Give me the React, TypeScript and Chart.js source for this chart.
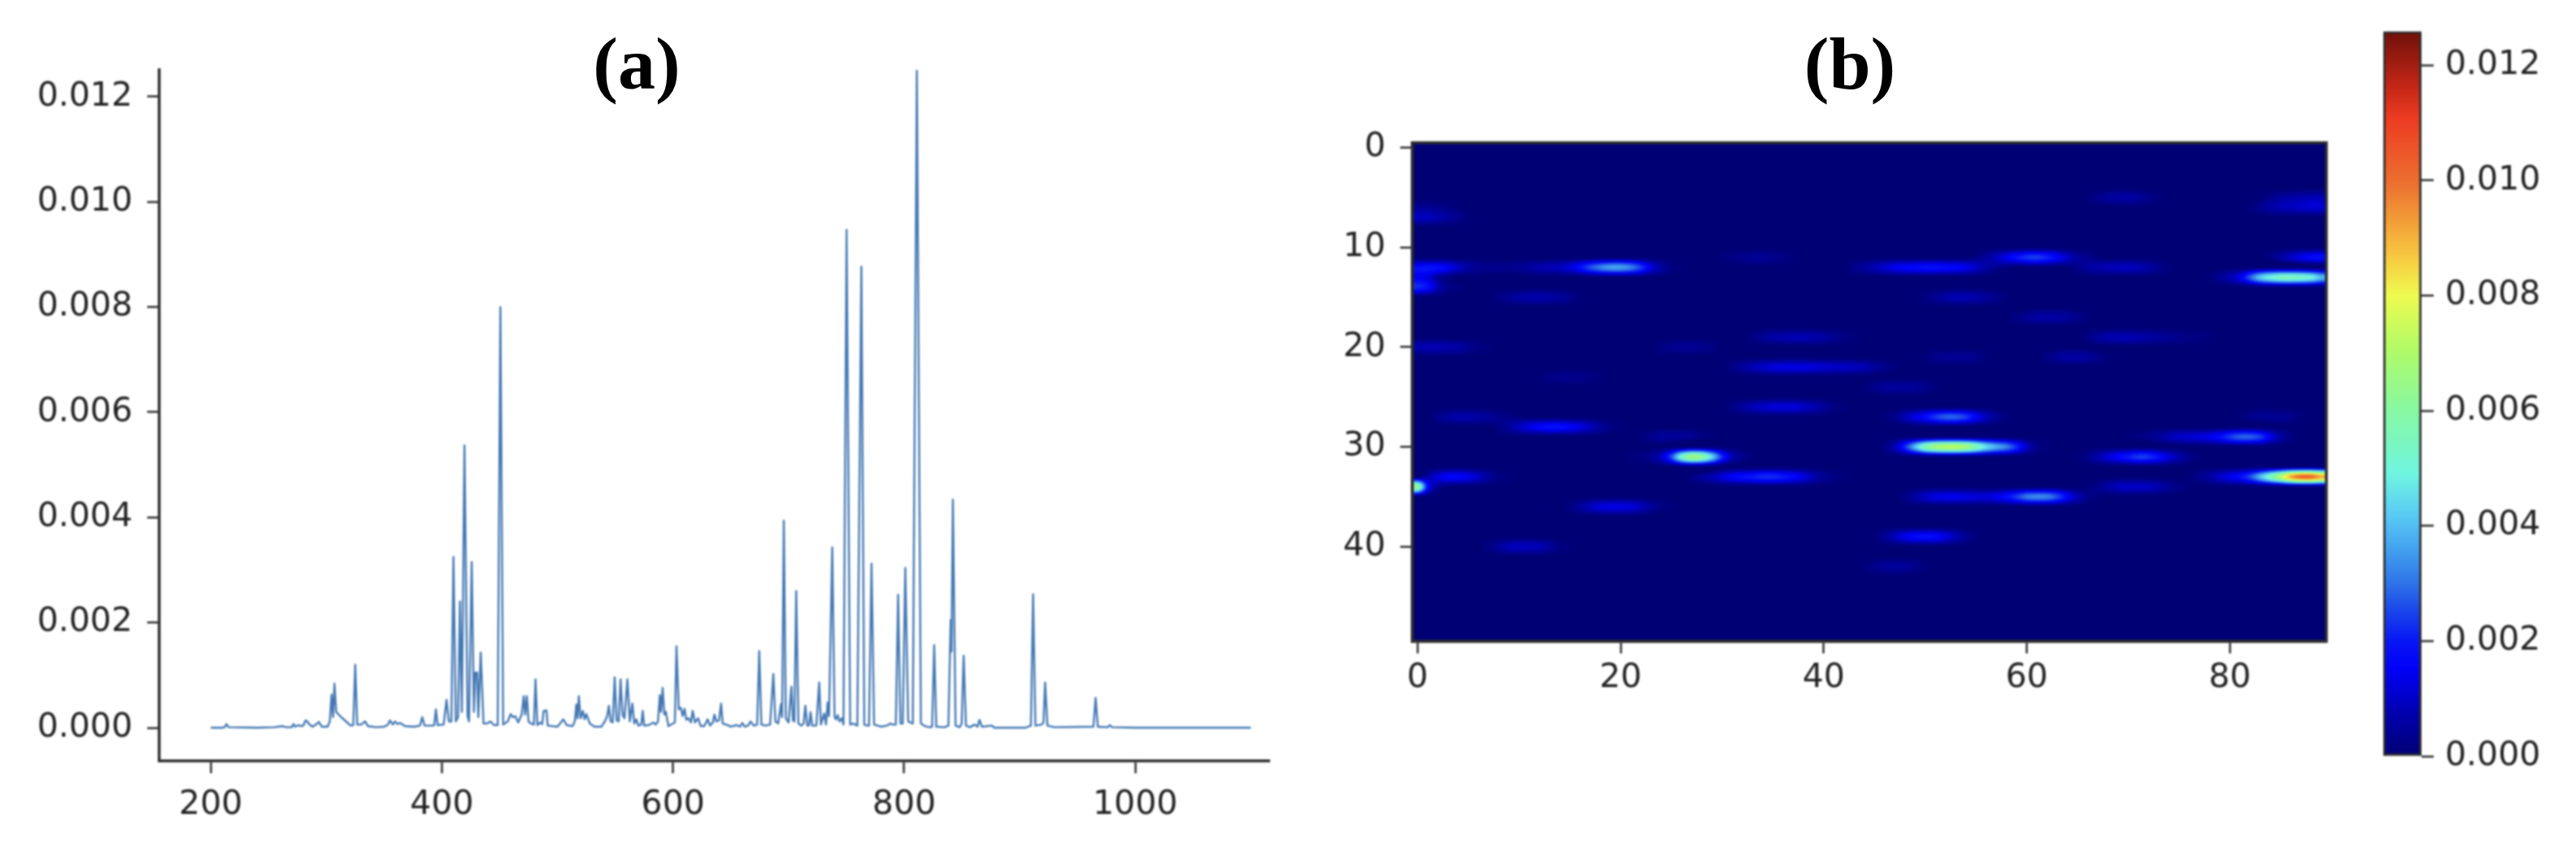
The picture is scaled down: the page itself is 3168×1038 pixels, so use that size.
// App.tsx
import { useEffect, useRef } from "react";
import { Chart, registerables } from "chart.js";

Chart.register(...registerables);

// spectrum, panel (a)
const spectrumX = [
  200, 210, 212, 213.5, 215.5, 240, 255, 262, 265, 270, 271.5, 273, 276, 278, 280, 282, 283.5, 285, 288, 291,
  293.5, 296, 301, 303, 304.5, 305.8, 307, 308.5, 312, 317, 321, 323.3, 325, 326.7, 330, 333.5, 336, 343, 350, 353,
  355, 357.5, 359.5, 361.5, 364, 368, 376, 381, 383, 385, 392, 393.3, 394.8, 396.3, 401.5, 404, 406, 408.2, 410, 412,
  414, 415.6, 417.3, 419.5, 422.2, 423.5, 425.8, 427.7, 429, 430.5, 431.5, 433.6, 436, 439, 442, 445, 448.3, 450.6, 453, 457,
  459.5, 461.5, 463.5, 466, 469, 470.8, 472, 473.5, 475, 477, 479.6, 481, 482.6, 485, 486.8, 488, 490.5, 491.5, 500, 505,
  508, 513, 515, 516.3, 517.3, 518.5, 520, 522, 523.5, 525, 528, 532, 538, 541, 543, 544.5, 546, 547.8, 549.5, 551.2,
  553, 554.6, 556.4, 558, 560.5, 562.6, 564.8, 566.5, 568.2, 570, 572.5, 573.8, 575, 579, 583, 585, 587, 588.6, 589.6, 591,
  592.5, 593.8, 596, 600, 601.6, 603, 605, 606.8, 608.3, 610, 611.5, 613.5, 615.5, 617, 619, 621.7, 624, 627, 630, 632,
  634.5, 635.8, 637.5, 639.8, 641.6, 643, 646, 650, 655, 658, 660, 662, 665, 667, 670, 672.8, 674.6, 676.5, 680, 684,
  686.8, 688.6, 691, 693.4, 694.4, 695.9, 697.6, 700, 702.4, 703.8, 705, 706.6, 708.5, 711, 713, 714.5, 716.2, 717.8, 719, 720.5,
  724, 726.5, 728, 730.8, 732.4, 733.8, 735, 737.8, 739.8, 741, 742.5, 744, 746, 747.5, 750.2, 753.3, 756, 759.5, 763, 765.5,
  768, 769.6, 771.8, 774, 780, 785, 788, 790, 792.8, 794.8, 796.8, 798.8, 801, 803.5, 807.5, 811, 814.5, 818, 822, 824.2,
  826, 827.8, 835, 838.3, 840.3, 841, 842.2, 844.5, 848, 849.8, 851.5, 853.5, 857, 861, 863.5, 865.2, 867.3, 876, 878, 905,
  909.7, 911.6, 913.6, 919, 920.6, 922, 924, 930, 963.8, 965.7, 967.6, 976, 978, 980, 1000, 1100,
];
const spectrumY = [
  0, 0, 0.00001, 0.00007, 0.00001, 0, 0.00001, 0.00003, 0.00001, 0.00001, 0.00007, 0.00002, 0.00005, 0.00003, 0.00004, 0.00014, 0.00012, 0.00007, 0.00002, 0.00006,
  0.00011, 0.00002, 0.00002, 0.00012, 0.00063, 0.0002, 0.00084, 0.0003, 0.00022, 0.00012, 0.00004, 0.00005, 0.0012, 0.00006, 0.00006, 0.00012, 0.00003, 0.00001, 0.00002, 0.00005,
  0.00014, 0.00006, 0.00012, 0.00007, 0.00009, 0.00003, 0.00002, 0.00004, 0.0002, 0.00004, 0.00004, 0.00005, 0.00035, 0.00005, 0.00006, 0.00053, 0.00012, 0.00012, 0.00325, 0.00012,
  0.0002, 0.0024, 0.0003, 0.00537, 0.00022, 0.00012, 0.00315, 0.0003, 0.00105, 0.00105, 0.0002, 0.00143, 0.00008, 0.00008, 0.00012, 0.00005, 0.00005, 0.008, 0.00006, 0.00012,
  0.00026, 0.0002, 0.00022, 0.0001, 0.00025, 0.0006, 0.00025, 0.0006, 0.00012, 0.00008, 0.00006, 0.00092, 0.00005, 0.0001, 0.00007, 0.00032, 0.00033, 0.00004, 0.00002, 0.00016,
  0.00005, 0.00003, 0.00012, 0.00044, 0.00018, 0.0006, 0.00018, 0.00032, 0.00016, 0.00026, 0.00008, 0.00002, 0.00002, 0.00012, 0.00022, 0.00042, 0.00012, 0.0001, 0.00096, 0.00014,
  0.00012, 0.00092, 0.00024, 0.00018, 0.00092, 0.00012, 0.00046, 0.00008, 0.00016, 0.00004, 0.00006, 0.00032, 0.00004, 0.00005, 0.0001, 0.00006, 0.00012, 0.00062, 0.0003, 0.00076,
  0.00025, 0.0003, 0.00003, 0.00008, 0.0001, 0.00155, 0.00035, 0.00038, 0.00022, 0.00036, 0.00015, 0.00018, 0.0001, 0.00032, 0.0001, 0.00018, 0.00003, 0.00003, 0.00016, 0.00004,
  0.0001, 0.00025, 0.00012, 0.00014, 0.00046, 0.00008, 0.00006, 0.00002, 0.00005, 0.00002, 0.00009, 0.00002, 0.00004, 0.00012, 0.00004, 0.00006, 0.00146, 0.00006, 0.00004, 0.00006,
  0.00102, 0.00012, 0.00008, 0.00045, 0.0002, 0.00394, 0.00018, 0.0001, 0.00078, 0.00014, 0.00012, 0.0026, 0.00008, 0.00004, 0.00008, 0.00042, 0.00004, 0.00005, 0.0003, 0.00004,
  0.00004, 0.00086, 0.00006, 0.00027, 0.00006, 0.00048, 0.00022, 0.00343, 0.0002, 0.00016, 0.00024, 0.00012, 0.00018, 0.00006, 0.00947, 0.00006, 0.00008, 0.00004, 0.00877, 0.00006,
  0.00004, 0.00004, 0.00312, 0.00006, 0.00002, 0.00004, 0.00008, 0.00006, 0.00006, 0.00253, 0.00008, 0.00008, 0.00304, 0.00012, 0.00008, 0.0125, 0.00008, 0.00003, 0.00001, 0.00002,
  0.00157, 0.00002, 0.00001, 0.00004, 0.00205, 0.00145, 0.00434, 0.00004, 0.00001, 0.00008, 0.00137, 0.00004, 0.00001, 0.00006, 0.00002, 0.00015, 0.00002, 0.00004, 0, 0,
  0.00004, 0.00254, 0.00004, 0.00006, 0.0001, 0.00086, 0.00004, 0.00001, 0.00002, 0.00057, 0.00002, 0.00001, 0.00005, 0.00001, 0, 0,
];
const spectrumXTicks = [200, 400, 600, 800, 1000];
const spectrumYTicks = [0, 0.002, 0.004, 0.006, 0.008, 0.01, 0.012];

// heatmap, panel (b): non-zero runs of cells, values in units of 1e-4
const heatUnit = 1e-4;
const heatXTicks = [0, 20, 40, 60, 80];
const heatYTicks = [0, 10, 20, 30, 40];
const heatRows = [
  5, 5, 6, 6, 7,
  11, 11, 11, 12, 12, 12,
  13, 14, 15, 15, 17, 19, 19,
  20, 20, 21, 21, 22, 23, 24, 26,
  27, 27, 27, 28, 29, 29, 30,
  31, 31, 33, 33, 33, 34, 34,
  35, 36, 39, 40, 42, 13,
];
const heatStarts = [
  66, 83, 0, 82, 0,
  30, 55, 84, 0, 43, 64,
  78, 0, 8, 50, 59, 33, 66,
  0, 24, 50, 62, 31, 12, 44, 31,
  2, 46, 81, 8, 22, 70, 46,
  21, 65, 1, 27, 76, 0, 66,
  48, 15, 45, 7, 44, 0,
];
const heatValues = [
  [1, 3, 5, 6, 6, 5, 3, 1], [1, 3, 5, 6, 7, 8, 8], [4, 4, 3, 2, 1], [1, 3, 6, 8, 9, 10, 11, 11], [9, 9, 7, 5, 3, 1],
  [1, 2, 3, 4, 4, 3, 2, 1], [2, 5, 9, 14, 19, 23, 24, 21, 16, 10, 5, 3, 1], [2, 6, 10, 14, 17, 18],
  [18, 19, 18, 15, 10, 6, 4, 3, 3, 3, 4, 5, 7, 8, 9, 12, 18, 26, 32, 36, 36, 32, 24, 13, 6, 2, 1],
  [3, 5, 8, 11, 14, 16, 17, 18, 18, 17, 16, 14, 10, 6, 3, 2], [1, 3, 5, 7, 8, 9, 9, 8, 6, 3, 1],
  [1, 4, 8, 14, 28, 42, 50, 55, 56, 54, 50, 40], [22, 18, 8, 3, 1], [2, 4, 6, 7, 7, 6, 5, 3, 1], [2, 4, 6, 8, 8, 7, 5, 3, 1],
  [2, 4, 6, 6, 6, 5, 3, 1], [2, 4, 6, 7, 8, 8, 7, 6, 4, 2, 1], [2, 5, 7, 8, 8, 7, 6, 5, 4, 3, 2, 2, 1],
  [7, 8, 8, 7, 6, 4, 2, 1], [2, 3, 4, 4, 3, 2], [1, 3, 4, 4, 4, 3, 1], [2, 4, 6, 6, 5, 3, 1],
  [2, 5, 8, 10, 12, 13, 13, 13, 12, 11, 10, 10, 9, 8, 5, 3, 1], [1, 2, 3, 3, 3, 2, 1], [1, 3, 5, 5, 5, 5, 3, 1], [2, 5, 8, 10, 12, 12, 12, 10, 8, 5, 2, 1],
  [3, 5, 7, 7, 6, 5, 3, 2, 1], [1, 3, 8, 13, 18, 24, 28, 28, 24, 16, 9, 4, 1], [1, 3, 4, 4, 4, 3, 1],
  [2, 5, 9, 13, 16, 18, 18, 16, 13, 9, 5, 2, 1], [1, 3, 5, 5, 5, 4, 2, 1], [1, 2, 3, 5, 8, 10, 11, 12, 14, 18, 24, 28, 28, 24, 14, 6, 2],
  [2, 8, 22, 40, 58, 68, 72, 72, 68, 58, 46, 38, 32, 22, 10, 3, 1],
  [1, 2, 4, 10, 26, 52, 66, 62, 44, 22, 8, 3, 1], [1, 3, 7, 12, 16, 20, 24, 23, 18, 12, 7, 3, 1],
  [6, 12, 16, 16, 14, 10, 5, 2, 1], [2, 5, 8, 12, 16, 18, 20, 22, 22, 20, 17, 13, 8, 4, 2, 1], [1, 3, 6, 10, 14, 18, 26, 40, 56, 72, 92, 102, 102, 92],
  [62, 18, 4, 1], [1, 3, 6, 9, 10, 10, 9, 7, 4, 2, 1],
  [2, 6, 10, 13, 14, 14, 13, 12, 12, 14, 18, 24, 31, 33, 32, 26, 16, 8, 3, 1],
  [2, 5, 9, 12, 13, 13, 12, 9, 5, 2, 1], [1, 4, 9, 14, 17, 18, 17, 13, 8, 4, 1], [2, 5, 8, 9, 9, 8, 5, 2, 1], [1, 3, 5, 5, 5, 3, 1],
  [14, 12, 5, 2],
];

// colour bar
const colorMax = 0.01259;
const colorTicks = [0, 0.002, 0.004, 0.006, 0.008, 0.01, 0.012];
const colorPositions = [0, 0.06, 0.12, 0.16, 0.2, 0.24, 0.29, 0.33, 0.39, 0.48, 0.56, 0.635, 0.69, 0.79, 0.88, 0.92, 1];
const colorValues = [
  "#000074", "#0000b0", "#0000f8", "#0818f5", "#1a45ea", "#2f75e8", "#45a5f0", "#58c8f5", "#70f5e0",
  "#88f8a0", "#b0fb68", "#eefb50", "#f8c840", "#ec7030", "#ec3c22", "#c82818", "#701008",
];

const axisColor = "#2e2e2e";
const textColor = "#222222";
const tickFont = { family: "DejaVu Sans", size: 41 };

const toRgb = (hex: string) => [1, 3, 5].map((i) => parseInt(hex.slice(i, i + 2), 16));
const colorRgb = colorValues.map(toRgb);

const colorAt = (t: number) => {
  const v = Math.max(0, Math.min(1, t));
  let i = 0;
  while (i < colorPositions.length - 2 && v > colorPositions[i + 1]) i++;
  const f = (v - colorPositions[i]) / (colorPositions[i + 1] - colorPositions[i]);
  return colorRgb[i].map((c, k) => c + (colorRgb[i + 1][k] - c) * f);
};

// same kernel imshow uses for interpolation="bicubic"
const cubic = (p0: number, p1: number, p2: number, p3: number, f: number) =>
  p1 + 0.5 * f * (p2 - p0 + f * (2 * p0 - 5 * p1 + 4 * p2 - p3 + f * (3 * (p1 - p2) + p3 - p0)));

const heatCells = heatRows.flatMap((row, i) =>
  heatValues[i].map((v, k) => ({ x: heatStarts[i] + k, y: row, v: v * heatUnit }))
);

const axisStyle = (extra: object) => ({
  grid: { display: true, drawOnChartArea: false, drawTicks: true, tickLength: 15, tickWidth: 2.5, tickColor: axisColor },
  border: { display: true, width: 3.5, color: axisColor },
  ...extra,
});

const ticksStyle = (padding: number, decimals: number) => ({
  padding,
  color: textColor,
  font: tickFont,
  autoSkip: false,
  maxRotation: 0,
  callback: (v: any) => Number(v).toFixed(decimals),
});

const fixedTicks = (values: number[]) => (s: any) => {
  s.ticks = values.map((value) => ({ value }));
};

const heatImagePlugin = {
  id: "heatImage",
  beforeDatasetsDraw(chart: any) {
    const { x, y } = chart.scales;
    const left = x.getPixelForValue(-0.5);
    const right = x.getPixelForValue(89.5);
    const top = y.getPixelForValue(-0.5);
    const bottom = y.getPixelForValue(49.5);
    const w = Math.round(right - left);
    const h = Math.round(bottom - top);
    const cols = 90;
    const rows = 50;
    const grid = new Float32Array(cols * rows);
    chart.data.datasets[0].data.forEach((c: any) => {
      grid[c.y * cols + c.x] = c.v;
    });
    const at = (r: number, c: number) =>
      grid[Math.max(0, Math.min(rows - 1, r)) * cols + Math.max(0, Math.min(cols - 1, c))];
    // across first, then down
    const across = new Float32Array(rows * w);
    for (let r = 0; r < rows; r++) {
      for (let px = 0; px < w; px++) {
        const u = ((px + 0.5) / w) * cols - 0.5;
        const c = Math.floor(u);
        across[r * w + px] = cubic(at(r, c - 1), at(r, c), at(r, c + 1), at(r, c + 2), u - c);
      }
    }
    const off = document.createElement("canvas");
    off.width = w;
    off.height = h;
    const octx = off.getContext("2d")!;
    const img = octx.createImageData(w, h);
    const clampRow = (r: number) => Math.max(0, Math.min(rows - 1, r));
    for (let py = 0; py < h; py++) {
      const u = ((py + 0.5) / h) * rows - 0.5;
      const r = Math.floor(u);
      for (let px = 0; px < w; px++) {
        const value = cubic(
          across[clampRow(r - 1) * w + px],
          across[clampRow(r) * w + px],
          across[clampRow(r + 1) * w + px],
          across[clampRow(r + 2) * w + px],
          u - r
        );
        const rgb = colorAt(value / colorMax);
        const o = (py * w + px) * 4;
        img.data[o] = rgb[0];
        img.data[o + 1] = rgb[1];
        img.data[o + 2] = rgb[2];
        img.data[o + 3] = 255;
      }
    }
    octx.putImageData(img, 0, 0);
    chart.ctx.drawImage(off, left, top, right - left, bottom - top);
  },
  afterDraw(chart: any) {
    const { left, top, width, height } = chart.chartArea;
    chart.ctx.save();
    chart.ctx.strokeStyle = axisColor;
    chart.ctx.lineWidth = 3.5;
    chart.ctx.strokeRect(left, top, width, height);
    chart.ctx.restore();
  },
};

const baseOptions = {
  responsive: false,
  animation: false as const,
  devicePixelRatio: 1,
  events: [] as any[],
};

const noLegend = { legend: { display: false }, title: { display: false }, tooltip: { enabled: false } };

const canvasStyle = (left: number, width: number) => ({
  position: "absolute" as const,
  left,
  top: 0,
  width,
  height: 1038,
  filter: "blur(1px)",
});

const titleStyle = (center: number) => ({
  position: "absolute" as const,
  left: center - 100,
  top: 22,
  width: 200,
  textAlign: "center" as const,
  font: "bold 92px 'Liberation Serif'",
  lineHeight: "112px",
  color: "#000",
  filter: "blur(0.6px)",
});

const App = () => {
  const lineRef = useRef<HTMLCanvasElement | null>(null);
  const heatRef = useRef<HTMLCanvasElement | null>(null);
  const barRef = useRef<HTMLCanvasElement | null>(null);

  useEffect(() => {
    document.body.style.margin = "0";
    document.body.style.background = "#fff";

    const lineChart = new Chart(lineRef.current!, {
      type: "scatter",
      data: {
        datasets: [
          {
            data: spectrumX.map((x, i) => ({ x, y: spectrumY[i] })),
            showLine: true,
            pointRadius: 0,
            borderWidth: 2.4,
            borderColor: "rgba(52,108,172,0.92)",
            borderJoinStyle: "round",
          },
        ],
      },
      options: {
        ...baseOptions,
        layout: { padding: { left: 0, right: 23, top: 86, bottom: 0 } },
        plugins: noLegend,
        scales: {
          x: axisStyle({
            type: "linear",
            min: 155.5,
            max: 1116,
            ticks: ticksStyle(15, 0),
            afterBuildTicks: fixedTicks(spectrumXTicks),
            afterFit: (s: any) => { s.height = 102; },
          }),
          y: axisStyle({
            type: "linear",
            min: -0.000634,
            max: 0.01251,
            ticks: ticksStyle(18, 3),
            afterBuildTicks: fixedTicks(spectrumYTicks),
            afterFit: (s: any) => { s.width = 196; },
          }),
        },
      } as any,
    });

    const heatChart = new Chart(heatRef.current!, {
      type: "scatter",
      data: { datasets: [{ data: heatCells, pointRadius: 0 }] },
      options: {
        ...baseOptions,
        layout: { padding: { left: 0, right: 29, top: 175.5, bottom: 0 } },
        plugins: noLegend,
        scales: {
          x: axisStyle({
            type: "linear",
            min: -0.5,
            max: 89.5,
            ticks: ticksStyle(6, 0),
            afterBuildTicks: fixedTicks(heatXTicks),
            afterFit: (s: any) => { s.height = 249.4; },
          }),
          y: axisStyle({
            type: "linear",
            reverse: true,
            min: -0.5,
            max: 49.5,
            ticks: ticksStyle(18, 0),
            afterBuildTicks: fixedTicks(heatYTicks),
            afterFit: (s: any) => { s.width = 137; },
          }),
        },
      } as any,
      plugins: [heatImagePlugin],
    });

    const barChart = new Chart(barRef.current!, {
      type: "bar",
      data: {
        labels: ["value"],
        datasets: [
          {
            data: [[0, colorMax]],
            barPercentage: 1,
            categoryPercentage: 1,
            borderWidth: 3,
            borderColor: axisColor,
            borderSkipped: false,
            backgroundColor: (c: any) => {
              const y = c.chart.scales.y;
              const start = y ? y.getPixelForValue(0) : NaN;
              const end = y ? y.getPixelForValue(colorMax) : NaN;
              if (!Number.isFinite(start) || !Number.isFinite(end)) return colorValues[0];
              const g = c.chart.ctx.createLinearGradient(0, start, 0, end);
              colorPositions.forEach((p, i) => g.addColorStop(p, colorValues[i]));
              return g;
            },
          },
        ],
      },
      options: {
        ...baseOptions,
        layout: { padding: { left: 51, right: 0, top: 32, bottom: 108 } },
        plugins: noLegend,
        scales: {
          x: { display: false },
          y: axisStyle({
            type: "linear",
            position: "right",
            min: 0,
            max: colorMax,
            ticks: ticksStyle(14, 3),
            afterBuildTicks: fixedTicks(colorTicks),
            border: { display: false },
            afterFit: (s: any) => { s.width = 190; },
          }),
        },
      } as any,
    });

    return () => {
      lineChart.destroy();
      heatChart.destroy();
      barChart.destroy();
    };
  }, []);

  return (
    <div style={{ position: "absolute", left: 0, top: 0, width: 3168, height: 1038, overflow: "hidden", background: "#fff" }}>
      <canvas ref={lineRef} width={1584} height={1038} style={canvasStyle(0, 1584)}></canvas>
      <canvas ref={heatRef} width={1290} height={1038} style={canvasStyle(1600, 1290)}></canvas>
      <canvas ref={barRef} width={288} height={1038} style={canvasStyle(2880, 288)}></canvas>
      <div style={titleStyle(783)}>(a)</div>
      <div style={titleStyle(2275)}>(b)</div>
    </div>
  );
};

export default App;
